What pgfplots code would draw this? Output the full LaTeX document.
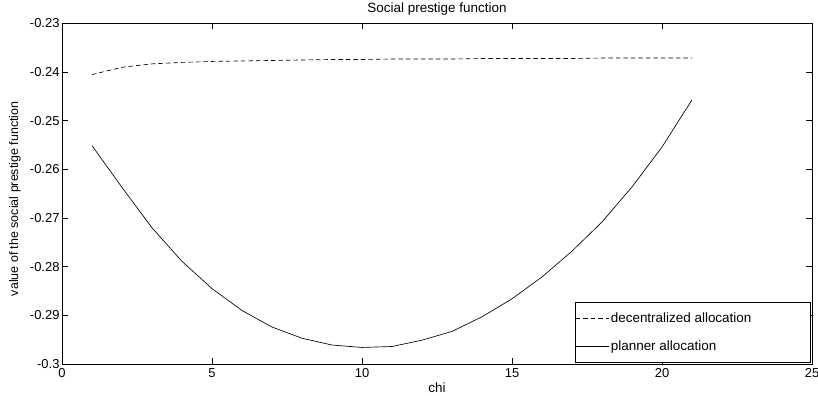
\documentclass[border=0pt]{standalone}
\usepackage{fontspec}
\setmainfont{Liberation Sans}
\usepackage{pgfplots}
\pgfplotsset{compat=1.18}
\begin{document}
\begin{tikzpicture}
\path[use as bounding box] (-62bp,-32bp) rectangle (756bp,364bp);
\begin{axis}[
  at={(0,0)}, anchor=south west,
  scale only axis, width=750bp, height=340.5bp,
  xmin=0, xmax=25, ymin=-0.3, ymax=-0.23,
  xtick={0,5,10,15,20,25},
  ytick={-0.3,-0.29,-0.28,-0.27,-0.26,-0.25,-0.24,-0.23},
  scaled y ticks=false,
  yticklabel style={/pgf/number format/fixed, /pgf/number format/precision=2, xshift=1bp},
  /pgf/number format/assume math mode=true,
  tick align=inside, major tick length=6bp,
  tick style={black, line width=0.6bp},
  axis line style={line width=0.9bp},
  ticklabel style={font=\fontsize{13}{15}\selectfont},
  xticklabel style={yshift=-1bp},
  every axis title shift=0pt,
  title={Social prestige function},
  title style={at={(axis description cs:0.5,1)}, anchor=base, yshift=10.5bp, font=\fontsize{13.5}{15}\selectfont, inner sep=0pt},
  xlabel={chi},
  xlabel style={at={(axis description cs:0.5,0)}, anchor=base, yshift=-28bp, font=\fontsize{13.5}{15}\selectfont, inner sep=0pt},
  ylabel={value of the social prestige function},
  ylabel style={at={(axis description cs:-0.0627,0.485)}, anchor=center, font=\fontsize{12.5}{14}\selectfont, inner sep=0pt},
  legend style={at={(axis description cs:0.999,0.003)}, anchor=south east,
    draw=black, line width=0.8bp, font=\fontsize{13.5}{15}\selectfont,
    inner xsep=0bp, inner ysep=9bp, row sep=12bp, cells={anchor=west}},
  legend image code/.code={\draw[#1] (0bp,0bp) -- (33bp,0bp);},
]
\addplot[black, line width=0.65bp, dash pattern=on 4.5bp off 3bp] coordinates {
(1,-0.2405) (2,-0.2390) (3,-0.2383) (4,-0.2380) (5,-0.2378) (6,-0.2377) (7,-0.2376)
(8,-0.2375) (9,-0.2374) (10,-0.2374) (11,-0.2373) (12,-0.2373) (13,-0.2373) (14,-0.2372)
(15,-0.2372) (16,-0.2372) (17,-0.2372) (18,-0.2371) (19,-0.2371) (20,-0.2371) (21,-0.2371)
};
\addlegendentry{\makebox[198bp][l]{decentralized allocation}}
\addplot[black, line width=0.65bp] coordinates {
(1,-0.2551) (2,-0.2637) (3,-0.2720) (4,-0.2789) (5,-0.2845) (6,-0.2890) (7,-0.2924)
(8,-0.2947) (9,-0.2961) (10,-0.2966) (11,-0.2964) (12,-0.2951) (13,-0.2933) (14,-0.2903)
(15,-0.2866) (16,-0.2821) (17,-0.2768) (18,-0.2708) (19,-0.2636) (20,-0.2554) (21,-0.2457)
};
\addlegendentry{\makebox[198bp][l]{planner allocation}}
\end{axis}
\end{tikzpicture}
\end{document}
